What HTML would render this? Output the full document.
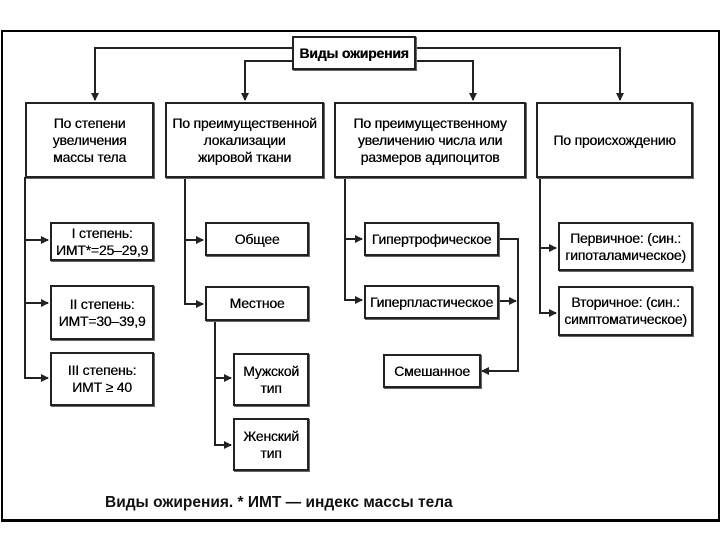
<!DOCTYPE html>
<html><head><meta charset="utf-8"><style>
body{margin:0;width:720px;height:540px;background:#fff;position:relative;overflow:hidden;font-family:"Liberation Sans",sans-serif;}
.f{position:absolute;left:1px;top:30px;width:715px;height:487px;border:2px solid #000;border-bottom-width:3px;}
.b{position:absolute;border:2px solid #222;box-shadow:1px 1px 0 #666;display:flex;align-items:center;justify-content:center;text-align:center;font-size:14px;line-height:17px;color:#000;box-sizing:border-box;font-weight:500;text-shadow:0.3px 0 0 #000;white-space:nowrap;letter-spacing:-0.2px;}
.cap{position:absolute;left:105px;top:494px;font-size:15.5px;font-weight:bold;color:#111;}
svg{position:absolute;left:0;top:0}
</style></head><body>
<div class="f"></div>
<svg width="720" height="540">
<defs><marker id="a" markerWidth="8" markerHeight="8" refX="7" refY="4" orient="auto" markerUnits="userSpaceOnUse"><path d="M0,0 L8,4 L0,8z" fill="#222"/></marker></defs>
<g stroke="#222" stroke-width="2" fill="none">
<polyline points="292,48 95,48 95,100" marker-end="url(#a)"/>
<polyline points="292,61 245,61 245,100" marker-end="url(#a)"/>
<polyline points="416,48 620,48 620,100" marker-end="url(#a)"/>
<polyline points="416,61 473,61 473,100" marker-end="url(#a)"/>
<polyline points="25,177 25,378 48,378" marker-end="url(#a)"/>
<line x1="25" y1="240" x2="48" y2="240" marker-end="url(#a)"/>
<line x1="25" y1="303" x2="48" y2="303" marker-end="url(#a)"/>
<polyline points="185,177 185,304 203,304" marker-end="url(#a)"/>
<line x1="185" y1="240" x2="203" y2="240" marker-end="url(#a)"/>
<polyline points="215,320 215,445 231,445" marker-end="url(#a)"/>
<line x1="215" y1="378" x2="231" y2="378" marker-end="url(#a)"/>
<polyline points="345,177 345,300 362,300" marker-end="url(#a)"/>
<line x1="345" y1="239" x2="362" y2="239" marker-end="url(#a)"/>
<polyline points="498,239 518,239 518,371 482,371" marker-end="url(#a)"/>
<line x1="498" y1="301" x2="516" y2="301" marker-end="url(#a)"/>
<polyline points="540,177 540,313 556,313" marker-end="url(#a)"/>
<line x1="540" y1="248" x2="556" y2="248" marker-end="url(#a)"/>
</g></svg>
<div class="b" style="left:292px;top:36px;width:124px;height:34px;font-weight:bold;">Виды ожирения</div>
<div class="b" style="left:25px;top:102px;width:129px;height:76px;">По степени<br>увеличения<br>массы тела</div>
<div class="b" style="left:165px;top:102px;width:159px;height:76px;">По преимущественной<br>локализации<br>жировой ткани</div>
<div class="b" style="left:334px;top:102px;width:192px;height:76px;">По преимущественному<br>увеличению числа или<br>размеров адипоцитов</div>
<div class="b" style="left:536px;top:102px;width:157px;height:76px;">По происхождению</div>
<div class="b" style="left:50px;top:222px;width:104px;height:39px;">I степень:<br>ИМТ*=25–29,9</div>
<div class="b" style="left:50px;top:285px;width:104px;height:55px;">II степень:<br>ИМТ=30–39,9</div>
<div class="b" style="left:50px;top:352px;width:104px;height:54px;">III степень:<br>ИМТ ≥ 40</div>
<div class="b" style="left:205px;top:222px;width:104px;height:34px;">Общее</div>
<div class="b" style="left:205px;top:286px;width:104px;height:35px;">Местное</div>
<div class="b" style="left:233px;top:353px;width:76px;height:53px;">Мужской<br>тип</div>
<div class="b" style="left:233px;top:418px;width:76px;height:53px;">Женский<br>тип</div>
<div class="b" style="left:364px;top:222px;width:135px;height:34px;">Гипертрофическое</div>
<div class="b" style="left:364px;top:285px;width:135px;height:34px;">Гиперпластическое</div>
<div class="b" style="left:383px;top:354px;width:98px;height:34px;">Смешанное</div>
<div class="b" style="left:558px;top:222px;width:135px;height:49px;">Первичное: (син.:<br>гипоталамическое)</div>
<div class="b" style="left:558px;top:286px;width:135px;height:50px;">Вторичное: (син.:<br>симптоматическое)</div>
<div class="cap">Виды ожирения. * ИМТ — индекс массы тела</div>
</body></html>
